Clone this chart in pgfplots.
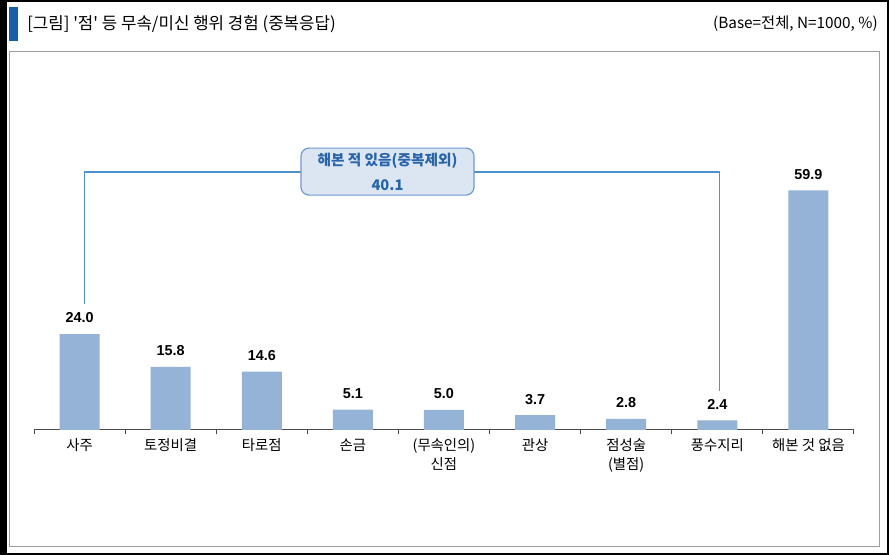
\documentclass[border=0pt]{standalone}
\usepackage{pgfplots}
\pgfplotsset{compat=1.18}
\usepackage{fontspec}
\setmainfont{Noto Sans CJK KR}[Ligatures=TeXOff]
\newfontfamily\arialf{Liberation Sans}
\definecolor{barblue}{RGB}{149,179,215}
\definecolor{titleblue}{RGB}{21,96,173}
\definecolor{brline}{RGB}{79,145,205}
\definecolor{boxfill}{RGB}{220,230,242}
\definecolor{boxdraw}{RGB}{110,155,210}
\definecolor{boxtext}{RGB}{40,100,170}
\pgfplotstableread{
x y lab
0 24.0 24.0
1 15.8 15.8
2 14.6 14.6
3 5.1 5.1
4 5.0 5.0
5 3.7 3.7
6 2.8 2.8
7 2.4 2.4
8 59.9 59.9
}\mydata
\begin{document}
\begin{tikzpicture}
\begin{scope}[x=0.75pt,y=-0.75pt]
\fill[black] (0,0) rectangle (889,555);
\fill[white] (7,2) rectangle (887,553);
\fill[titleblue] (9,7) rectangle (18,41);
\draw[black!38, line width=0.75pt] (9.5,51.5) rectangle (879.5,546.5);
\node[anchor=west, inner sep=0pt, font=\fontsize{12.6}{14}\selectfont] at (27,24) {[그림] '점' 등 무속/미신 행위 경험 (중복응답)};
\node[anchor=east, inner sep=0pt, font=\fontsize{11.5}{13}\selectfont] at (878,24) {(Base=전체, N=1000, \%)};
\end{scope}
\begin{axis}[
  at={(25.5pt,-322.5pt)}, anchor=south west,
  scale only axis, width=615pt, height=270pt,
  xmin=-0.5, xmax=8.5, ymin=0, ymax=90,
  axis x line*=bottom, axis y line=none,
  xtick={0,...,8},
  xticklabels={사주, 토정비결, 타로점, 손금, {(무속인의)\\신점}, 관상, {점성술\\(별점)}, 풍수지리, 해본 것 없음},
  major tick length=0pt,
  minor xtick={-0.5,0.5,...,8.5}, minor tick length=3pt, tick align=outside,
  x axis line style={draw=black!70, line width=0.75pt},
  every tick/.style={black!70, line width=0.75pt},
  xticklabel style={font=\fontsize{10.8}{14.25}\selectfont, align=center, anchor=north, inner sep=0pt, yshift=-6.5pt},
  ybar, bar width=30pt,
  nodes near coords, point meta=explicit symbolic,
  every node near coord/.append style={font=\arialf\bfseries\fontsize{10.8}{12}\selectfont, inner sep=0pt, anchor=south, yshift=8pt, black},
  clip=false,
]
\addplot[fill=barblue, draw=none] table[x=x, y=y, meta=lab]{\mydata};
\draw[brline, line width=0.9pt] (axis cs:0.05,31.5) -- (axis cs:0.05,64.5) -- (axis cs:7.02,64.5) -- (axis cs:7.02,9.75);
\node[draw=boxdraw, fill=boxfill, line width=0.9pt, rounded corners=6pt, minimum width=129.75pt, minimum height=35.25pt, inner sep=0pt, align=center, text=boxtext, font=\bfseries\fontsize{11}{18.75}\selectfont] at (axis cs:3.38,64.6) {해본 적 있음(중복제외)\\40.1};
\end{axis}
\end{tikzpicture}
\end{document}
